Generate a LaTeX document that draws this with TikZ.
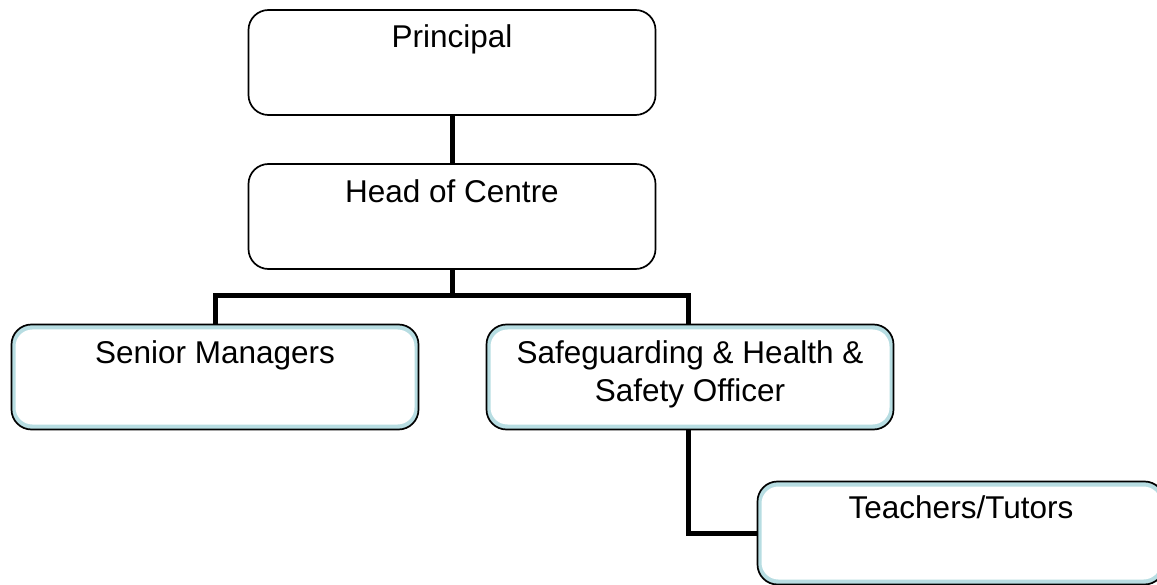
\documentclass[tikz,border=0pt]{standalone}
\usepackage{fontspec}
\setmainfont{Liberation Sans}
\usetikzlibrary{positioning}
\definecolor{boxblue}{HTML}{B7DDE2}

\begin{document}
\begin{tikzpicture}[node distance=150pt,on grid,
    every node/.style={font=\fontsize{31.5}{38}\selectfont}]
  \tikzstyle{boxW}=[draw=black,line width=1.7pt,rounded corners=20pt,fill=white,
    minimum width=407pt,minimum height=105pt,inner sep=0pt]
  \tikzstyle{boxB}=[boxW,fill=boxblue,
    path picture={\fill[white,rounded corners=17pt]
      ([shift={(4pt,-5pt)}]path picture bounding box.north west) rectangle
      ([shift={(-4pt,5pt)}]path picture bounding box.south east);}]
  \tikzstyle{link}=[line width=5pt]
  \tikzstyle{txt}=[anchor=north,align=center,inner sep=0pt]
  \clip (0,0) rectangle (1157pt,-585pt);

  % Boxes
  \node[boxW] (n_pri) at (452pt,-62.5pt)
    [label={[txt,yshift=-15pt]north:Principal}] {};
  \node[boxW] (n_head) [below=154pt of n_pri]
    [label={[txt,yshift=-16pt]north:Head of Centre}] {};
  \node[boxB] (n_sen) [below left=160.5pt and 237pt of n_head]
    [label={[txt,yshift=-17pt]north:Senior Managers}] {};
  \node[boxB] (n_safe) [below right=160.5pt and 238pt of n_head]
    [label={[txt,yshift=-17pt]north:Safeguarding \& Health \&\\ Safety Officer}] {};
  \node[boxB,minimum height=103pt] (n_teach) [below right=156pt and 271pt of n_safe]
    [label={[txt,yshift=-15pt]north:Teachers/Tutors}] {};

  % Links
  \draw[link] (n_pri.south) -- (n_head.north);
  \draw[link] (n_head.south) -- ++(0,-26pt) -| (n_sen.north);
  \draw[link] (n_head.south) -- ++(0,-26pt) -| ([xshift=-2pt]n_safe.north);
  \draw[link] ([xshift=-2pt]n_safe.south) |- (n_teach.west);
\end{tikzpicture}
\end{document}
